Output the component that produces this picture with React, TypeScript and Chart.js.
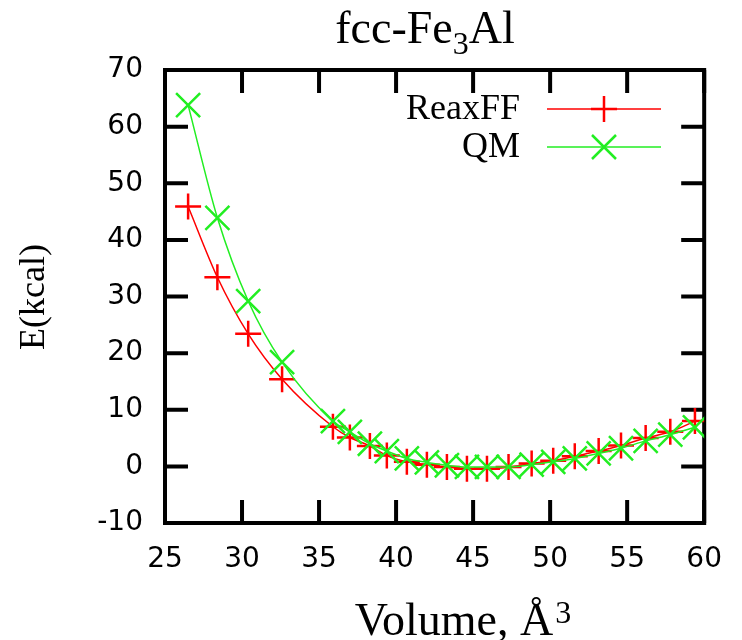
import React, { useEffect, useRef } from "react";
import { Chart, registerables } from "chart.js";

Chart.register(...registerables);

const volumes = [26.5, 28.4, 30.4, 32.6, 35.9, 37.0, 38.3, 39.4, 40.7, 42.0, 43.3, 44.6, 45.9, 47.3, 48.8, 50.2, 51.6, 53.15, 54.6, 56.2, 57.8, 59.4];
const reaxffE = [45.9, 33.4, 23.4, 15.4, 7.0, 5.1, 3.6, 1.9, 0.8, 0.3, -0.1, -0.4, -0.4, -0.1, 0.5, 1.0, 1.8, 2.7, 3.7, 5.0, 6.1, 8.0];
const qmE = [63.8, 43.9, 29.2, 18.4, 8.0, 6.1, 4.0, 2.7, 1.4, 0.7, 0.2, -0.1, -0.1, -0.1, 0.3, 0.8, 1.4, 2.3, 3.2, 4.5, 5.6, 6.9];
const seriesNames = ["ReaxFF", "QM"];
const xTicks = [25, 30, 35, 40, 45, 50, 55, 60];
const yTicks = [-10, 0, 10, 20, 30, 40, 50, 60, 70];

const RED = "#ff0000";
const GREEN = "#22ee22";
const SERIF = "'Liberation Serif', 'Times New Roman', serif";

const framePlugin = {
  id: "gnuFrame",
  beforeDatasetsDraw(chart: any) {
    const { ctx, chartArea: a, scales } = chart;
    const xs = scales.x, ys = scales.y;
    const tl = 23;
    ctx.save();
    ctx.strokeStyle = "#000";
    ctx.lineWidth = 4;
    ctx.lineCap = "butt";
    ctx.beginPath();
    for (const v of xTicks) {
      const px = xs.getPixelForValue(v);
      ctx.moveTo(px, a.bottom);
      ctx.lineTo(px, a.bottom - tl);
      ctx.moveTo(px, a.top);
      ctx.lineTo(px, a.top + tl);
    }
    for (const v of yTicks) {
      const py = ys.getPixelForValue(v);
      ctx.moveTo(a.left, py);
      ctx.lineTo(a.left + tl, py);
      ctx.moveTo(a.right, py);
      ctx.lineTo(a.right - tl, py);
    }
    ctx.stroke();
    ctx.lineJoin = "miter";
    ctx.strokeRect(a.left, a.top, a.right - a.left, a.bottom - a.top);
    ctx.restore();
  },
  afterDraw(chart: any) {
    const { ctx } = chart;
    ctx.save();
    ctx.fillStyle = "#000";
    // Title: fcc-Fe3Al
    const t1 = "fcc-Fe", t2 = "3", t3 = "Al";
    ctx.font = `46px ${SERIF}`;
    const w1 = ctx.measureText(t1).width;
    const w3 = ctx.measureText(t3).width;
    ctx.font = `32px ${SERIF}`;
    const w2 = ctx.measureText(t2).width;
    let x = 425 - (w1 + w2 + w3) / 2;
    ctx.textBaseline = "alphabetic";
    ctx.textAlign = "left";
    ctx.font = `46px ${SERIF}`;
    ctx.fillText(t1, x, 43);
    x += w1;
    ctx.font = `32px ${SERIF}`;
    ctx.fillText(t2, x, 54);
    x += w2;
    ctx.font = `46px ${SERIF}`;
    ctx.fillText(t3, x, 43);

    // X title: Volume, Å3
    const v1 = "Volume, Å", v2 = "3";
    ctx.font = `46px ${SERIF}`;
    const vw1 = ctx.measureText(v1).width;
    ctx.font = `32px ${SERIF}`;
    const vw2 = ctx.measureText(v2).width;
    let vx = 463 - (vw1 + vw2 + 2) / 2;
    ctx.font = `46px ${SERIF}`;
    ctx.fillText(v1, vx, 635);
    vx += vw1 + 2;
    ctx.font = `32px ${SERIF}`;
    ctx.fillText(v2, vx, 623);

    // Y title
    ctx.save();
    ctx.translate(35, 297);
    ctx.rotate(-Math.PI / 2);
    ctx.font = `36px ${SERIF}`;
    ctx.textAlign = "center";
    ctx.textBaseline = "middle";
    ctx.fillText("E(kcal)", 0, 0);
    ctx.restore();

    // Legend
    const rows = [
      { name: seriesNames[0], color: RED, y: 109, style: "plus" },
      { name: seriesNames[1], color: GREEN, y: 147, style: "x" },
    ];
    for (const r of rows) {
      ctx.font = `36px ${SERIF}`;
      ctx.fillStyle = "#000";
      ctx.textAlign = "right";
      ctx.textBaseline = "middle";
      ctx.fillText(r.name, 520, r.y + 1);
      ctx.strokeStyle = r.color;
      ctx.lineWidth = 1.5;
      ctx.beginPath();
      ctx.moveTo(547, r.y);
      ctx.lineTo(661, r.y);
      ctx.stroke();
      ctx.lineWidth = 2.5;
      ctx.beginPath();
      const cx = 604;
      if (r.style === "plus") {
        ctx.moveTo(cx - 13, r.y);
        ctx.lineTo(cx + 13, r.y);
        ctx.moveTo(cx, r.y - 13);
        ctx.lineTo(cx, r.y + 13);
      } else {
        ctx.moveTo(cx - 12, r.y - 12);
        ctx.lineTo(cx + 12, r.y + 12);
        ctx.moveTo(cx - 12, r.y + 12);
        ctx.lineTo(cx + 12, r.y - 12);
      }
      ctx.stroke();
    }
    ctx.restore();
  },
};

export default function App() {
  const ref = useRef<HTMLCanvasElement | null>(null);
  useEffect(() => {
    document.body.style.margin = "0";
    const canvas = ref.current;
    if (!canvas) return;
    const chart = new Chart(canvas, {
      type: "line",
      data: {
        datasets: [
          {
            label: seriesNames[0],
            data: volumes.map((v, i) => ({ x: v, y: reaxffE[i] })),
            borderColor: RED,
            backgroundColor: RED,
            borderWidth: 1.5,
            pointStyle: "cross",
            pointRadius: 13,
            pointBorderWidth: 2.5,
            pointBorderColor: RED,
            pointHoverRadius: 13,
            cubicInterpolationMode: "monotone",
            fill: false,
            order: 2,
          },
          {
            label: seriesNames[1],
            data: volumes.map((v, i) => ({ x: v, y: qmE[i] })),
            borderColor: GREEN,
            backgroundColor: GREEN,
            borderWidth: 1.5,
            pointStyle: "crossRot",
            pointRadius: 17,
            pointBorderWidth: 2.5,
            pointBorderColor: GREEN,
            pointHoverRadius: 17,
            cubicInterpolationMode: "monotone",
            fill: false,
            order: 1,
          },
        ],
      },
      options: {
        animation: false,
        responsive: false,
        maintainAspectRatio: false,
        layout: { padding: { left: 0, right: 37, top: 70, bottom: 0 } },
        plugins: {
          legend: { display: false },
          title: { display: false },
          tooltip: { enabled: false },
        },
        scales: {
          x: {
            type: "linear",
            min: 25,
            max: 60,
            afterFit: (s: any) => {
              s.height = 117;
            },
            afterBuildTicks: (s: any) => {
              s.ticks = xTicks.map((v) => ({ value: v }));
            },
            grid: { display: false, drawTicks: false },
            border: { display: false },
            ticks: {
              color: "#000",
              padding: 20,
              maxRotation: 0,
              font: { family: "'DejaVu Sans', sans-serif", size: 28 },
            },
          },
          y: {
            type: "linear",
            min: -10,
            max: 70,
            afterFit: (s: any) => {
              s.width = 165;
            },
            afterBuildTicks: (s: any) => {
              s.ticks = yTicks.map((v) => ({ value: v }));
            },
            grid: { display: false, drawTicks: false },
            border: { display: false },
            ticks: {
              color: "#000",
              padding: 22,
              font: { family: "'DejaVu Sans', sans-serif", size: 28 },
            },
          },
        },
      },
      plugins: [framePlugin],
    } as any);
    return () => chart.destroy();
  }, []);
  return (
    <div style={{ width: 742, height: 640 }}>
      <canvas ref={ref} width={742} height={640} />
    </div>
  );
}
